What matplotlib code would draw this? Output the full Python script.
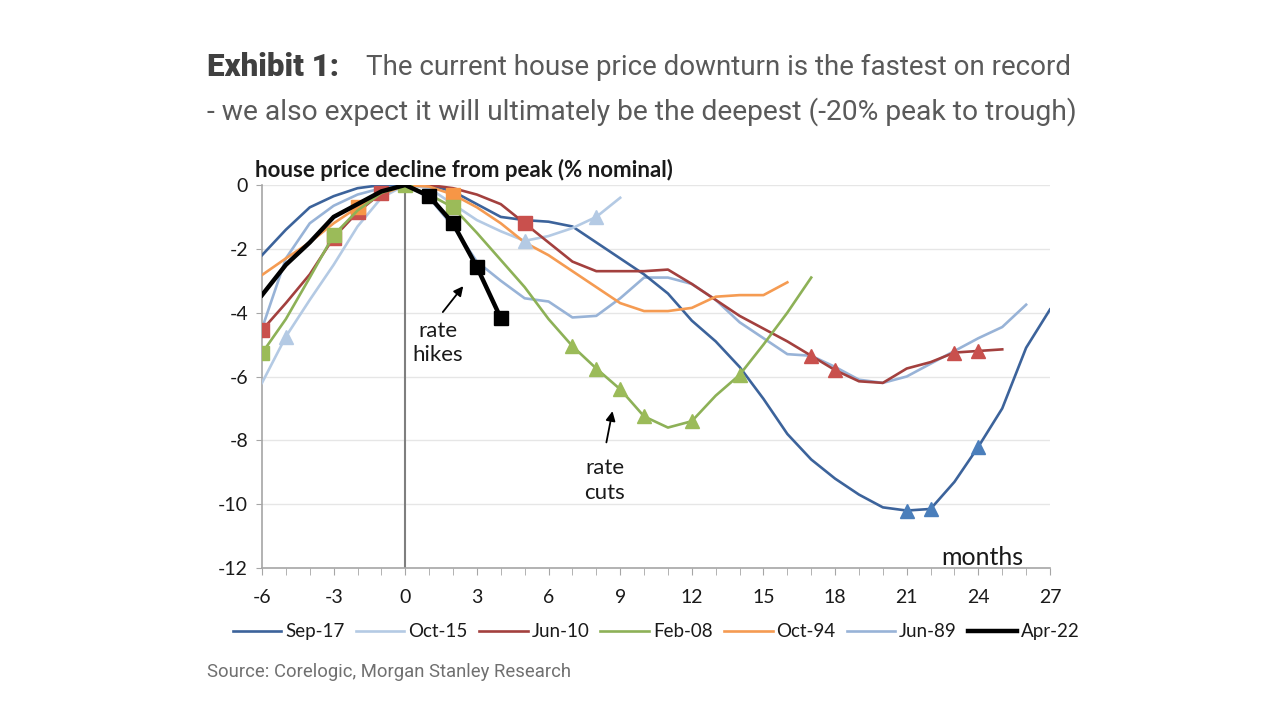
import numpy as np
import matplotlib.pyplot as plt
plt.close('all')
plt.rcParams['axes.unicode_minus'] = False

# months from peak
months = list(range(-6, 28))

# house price decline from peak (% nominal), one list per episode
sep17 = [-2.2, -1.4, -0.7, -0.35, -0.1, 0.0, 0.0, 0.0, -0.2, -0.6, -1.0, -1.1, -1.15, -1.3,
         -1.8, -2.3, -2.8, -3.4, -4.25, -4.9, -5.7, -6.7, -7.8, -8.6, -9.2, -9.7, -10.1,
         -10.2, -10.15, -9.3, -8.2, -7.0, -5.1, -3.9]
oct15 = [-6.2, -4.75, -3.6, -2.5, -1.3, -0.4, 0.0, -0.1, -0.6, -1.1, -1.45, -1.75, -1.6, -1.35,
         -1.0, -0.4]
jun10 = [-4.55, -3.7, -2.8, -1.65, -0.85, -0.25, 0.0, 0.0, -0.1, -0.3, -0.6, -1.2, -1.8, -2.4,
         -2.7, -2.7, -2.7, -2.65, -3.1, -3.6, -4.1, -4.5, -4.9, -5.35, -5.8, -6.15, -6.2,
         -5.75, -5.55, -5.25, -5.2, -5.15]
feb08 = [-5.27, -4.2, -2.9, -1.57, -0.8, -0.25, 0.0, -0.3, -0.7, -1.5, -2.35, -3.2, -4.2, -5.05,
         -5.75, -6.4, -7.25, -7.6, -7.4, -6.6, -5.95, -5.0, -4.0, -2.9]
oct94 = [-2.82, -2.3, -1.8, -1.2, -0.7, -0.3, 0.0, -0.05, -0.3, -0.7, -1.2, -1.8, -2.2, -2.7,
         -3.2, -3.7, -3.95, -3.95, -3.85, -3.5, -3.45, -3.45, -3.05]
jun89 = [-4.5, -2.3, -1.2, -0.65, -0.3, -0.1, 0.0, -0.4, -1.3, -2.4, -3.0, -3.55, -3.65, -4.15,
         -4.1, -3.55, -2.9, -2.9, -3.1, -3.6, -4.3, -4.8, -5.3, -5.35, -5.7, -6.1, -6.2,
         -6.0, -5.6, -5.2, -4.8, -4.45, -3.75]
apr22 = [-3.45, -2.5, -1.8, -1.0, -0.6, -0.2, 0.0, -0.35, -1.2, -2.57, -4.17]

labels = ['Sep-17', 'Oct-15', 'Jun-10', 'Feb-08', 'Oct-94', 'Jun-89', 'Apr-22']
series = [sep17, oct15, jun10, feb08, oct94, jun89, apr22]

# months carrying markers
sq_marks = {'Jun-10': [-6, -3, -2, -1, 5], 'Feb-08': [-6, -3, 0, 2],
            'Oct-94': [-2, 2], 'Apr-22': [1, 2, 3, 4]}
tri_marks = {'Sep-17': [21, 22, 24], 'Oct-15': [-5, 5, 8],
             'Jun-10': [17, 18, 23, 24], 'Feb-08': [7, 8, 9, 10, 12, 14]}

line_col = {'Sep-17': '#3C639B', 'Oct-15': '#B4CAE4', 'Jun-10': '#A3403E', 'Feb-08': '#8DB157',
            'Oct-94': '#F59B52', 'Jun-89': '#98B3D7', 'Apr-22': '#000000'}
mark_col = {'Sep-17': '#4A7EBB', 'Oct-15': '#B4CAE4', 'Jun-10': '#C9504D', 'Feb-08': '#9BBB59',
            'Oct-94': '#F79646', 'Apr-22': '#000000'}
zord = {'Sep-17': 3, 'Oct-15': 3, 'Jun-10': 3, 'Feb-08': 4, 'Oct-94': 3, 'Jun-89': 2, 'Apr-22': 5}

chart_font = ['Lato', 'DejaVu Sans']
title_font = ['Roboto', 'DejaVu Sans']

fig = plt.figure(figsize=(12.8, 7.2), dpi=100)
ax = fig.add_axes([262 / 1280, 1 - 568 / 720, (1050 - 262) / 1280, (568 - 185) / 720])

for lab, ys in zip(labels, series):
    xs = months[:len(ys)]
    lw = 3.2 if lab == 'Apr-22' else 1.9
    ax.plot(xs, ys, color=line_col[lab], lw=lw, label=lab, zorder=zord[lab])
    if lab in sq_marks:
        idx = [xs.index(m) for m in sq_marks[lab]]
        ax.plot(xs, ys, ls='none', marker='s', ms=10, color=mark_col[lab],
                markevery=idx, zorder=zord[lab] + 0.5)
    if lab in tri_marks:
        idx = [xs.index(m) for m in tri_marks[lab]]
        ax.plot(xs, ys, ls='none', marker='^', ms=10, color=mark_col[lab],
                markevery=idx, zorder=zord[lab] + 0.5)

ax.axvline(0, color='#7F7F7F', lw=1.5, zorder=1)

ax.set_xlim(-6, 27)
ax.set_ylim(-12, 0)
ax.set_xticks(range(-6, 28, 3))
ax.set_xticks(range(-6, 28), minor=True)
ax.set_yticks(range(-12, 1, 2))
ax.grid(axis='y', color='#E6E6E6', lw=1)
ax.set_axisbelow(True)
for s in ['top', 'right']:
    ax.spines[s].set_visible(False)
ax.spines['left'].set_color('#A6A6A6')
ax.spines['bottom'].set_color('#A6A6A6')
ax.spines['left'].set_linewidth(1.2)
ax.spines['bottom'].set_linewidth(1.2)
ax.tick_params(axis='x', which='both', direction='out', length=5, color='#A6A6A6', pad=10)
ax.tick_params(axis='y', direction='out', length=4, color='#A6A6A6', pad=6)
for t in ax.get_xticklabels() + ax.get_yticklabels():
    t.set_family(chart_font)
    t.set_fontsize(14)
    t.set_color('#1A1A1A')

ax.text(-6.3, 0.47, 'house price decline from peak (% nominal)', family=chart_font,
        fontsize=16, fontweight='bold', color='#1A1A1A', va='center', ha='left')
ax.text(25.9, -11.66, 'months', family=chart_font, fontsize=18, color='#1A1A1A',
        ha='right', va='center')

ax.annotate('', xy=(2.5, -3.1), xytext=(1.5, -4.05),
            arrowprops=dict(arrowstyle='-|>', color='#000000', lw=1.3, mutation_scale=14))
ax.text(1.35, -4.95, 'rate\nhikes', family=chart_font, fontsize=16, color='#1A1A1A',
        ha='center', va='center', linespacing=1.3)
ax.annotate('', xy=(8.7, -7.0), xytext=(8.4, -8.15),
            arrowprops=dict(arrowstyle='-|>', color='#000000', lw=1.3, mutation_scale=14))
ax.text(8.35, -9.25, 'rate\ncuts', family=chart_font, fontsize=16, color='#1A1A1A',
        ha='center', va='center', linespacing=1.3)

leg = ax.legend(loc='upper center', bbox_to_anchor=(0.5, -0.1), ncol=7, frameon=False,
                handlelength=2.6, columnspacing=0.6, handletextpad=0.2,
                prop={'family': chart_font, 'size': 13.5})
for t in leg.get_texts():
    t.set_color('#1A1A1A')

fig.text(207 / 1280, 1 - 67 / 720, 'Exhibit 1:', family=title_font, fontsize=22.5,
         fontweight='heavy', color='#404040', va='center', ha='left')
fig.text(366 / 1280, 1 - 67 / 720, 'The current house price downturn is the fastest on record',
         family=title_font, fontsize=20, fontweight='normal', color='#5A5A5A',
         va='center', ha='left')
fig.text(207 / 1280, 1 - 112 / 720,
         '- we also expect it will ultimately be the deepest (-20% peak to trough)',
         family=title_font, fontsize=20.3, fontweight='normal', color='#5A5A5A',
         va='center', ha='left')
fig.text(207 / 1280, 1 - 672 / 720, 'Source: Corelogic, Morgan Stanley Research',
         family=title_font, fontsize=13.3, fontweight='normal', color='#707070',
         va='center', ha='left')

fig.savefig('out.png', dpi=100)
